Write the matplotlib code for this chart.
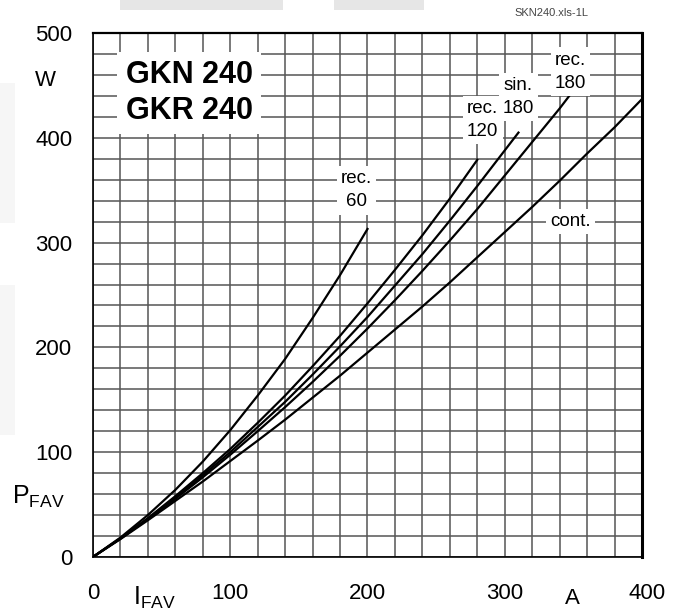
import matplotlib.pyplot as plt
from matplotlib.patches import Rectangle
from matplotlib.ticker import MultipleLocator

plt.rcParams['font.family'] = ['Liberation Sans', 'DejaVu Sans']
plt.rcParams['mathtext.fontset'] = 'custom'
plt.rcParams['mathtext.rm'] = 'Liberation Sans'

# average on-state current I_FAV (A) and power loss P_FAV (W)
i_cont = [0, 20, 40, 60, 80, 100, 120, 140, 160, 180, 200, 220, 240, 260, 280, 300, 320, 340, 360, 380, 400]
p_cont = [0, 17, 35, 53.5, 72, 91.5, 111, 131, 152, 173, 195, 217, 239, 262, 286, 310, 334, 359, 385, 410, 437]

i_rec180 = [0, 20, 40, 60, 80, 100, 120, 140, 160, 180, 200, 220, 240, 260, 280, 300, 320, 340, 347]
p_rec180 = [0, 17.5, 36, 55.5, 76, 97.5, 120, 143, 167, 192, 218, 245, 273, 302, 332, 364, 396, 428, 440]

i_sin180 = [0, 20, 40, 60, 80, 100, 120, 140, 160, 180, 200, 220, 240, 260, 280, 300, 310]
p_sin180 = [0, 17.7, 36.5, 56.5, 78, 100, 124, 148, 174, 201, 229, 259, 289, 321, 354, 388, 405]

i_rec120 = [0, 20, 40, 60, 80, 100, 120, 140, 160, 180, 200, 220, 240, 260, 280]
p_rec120 = [0, 17.8, 37, 58, 80, 103, 128, 154, 182, 211, 242, 274, 307, 342, 379]

i_rec60 = [0, 20, 40, 60, 80, 100, 120, 140, 160, 180, 200]
p_rec60 = [0, 18.5, 40, 64, 91, 121, 154, 189, 228, 269, 313]

x_ticks = [0, 100, 200, 300, 400]
y_ticks = [0, 100, 200, 300, 400, 500]

fig = plt.figure(figsize=(6.74, 6.12), dpi=100)

# faint grey scan artefacts around the page edge
W, H = 674, 612
for x0, y0, w, h, c in [(120, 0, 163, 10, '#e6e6e6'), (334, 0, 90, 10, '#e6e6e6'),
                        (0, 83, 15, 140, '#f6f6f6'), (0, 285, 15, 150, '#f6f6f6')]:
    fig.patches.append(Rectangle((x0 / W, 1 - (y0 + h) / H), w / W, h / H,
                                 transform=fig.transFigure, facecolor=c, edgecolor='none'))

ax = fig.add_axes([0.138, 0.090, 0.8145, 0.856])

ax.set_xlim(0, 400)
ax.set_ylim(0, 500)
ax.xaxis.set_minor_locator(MultipleLocator(20))
ax.yaxis.set_minor_locator(MultipleLocator(20))
ax.set_xticks(x_ticks)
# the last x label sits a bit to the right and runs off the page, drawn below
ax.set_xticklabels([str(t) for t in x_ticks[:-1]] + [''])
ax.set_yticks(y_ticks)
ax.grid(True, which='both', color='#555555', linewidth=1.1)
ax.set_axisbelow(True)
ax.tick_params(which='both', length=0)
ax.tick_params(axis='x', pad=19, labelsize=16)
ax.tick_params(axis='y', pad=15, labelsize=16)
for side in ['left', 'bottom']:
    ax.spines[side].set_linewidth(1.2)
ax.spines['top'].set_linewidth(1.6)
ax.spines['right'].set_linewidth(2.2)
ax.annotate(str(x_ticks[-1]), xy=(x_ticks[-1], 0), xycoords='data',
            xytext=(5, -26), textcoords='offset pixels', ha='center', va='top',
            fontsize=16, annotation_clip=False)

for xs, ys in [(i_cont, p_cont), (i_rec180, p_rec180), (i_sin180, p_sin180),
               (i_rec120, p_rec120), (i_rec60, p_rec60)]:
    ax.plot(xs, ys, color='black', linewidth=1.6, zorder=3)

box = dict(facecolor='white', edgecolor='none', pad=3)
lbl = dict(fontsize=13.5, ha='center', va='center', linespacing=1.5, bbox=box, zorder=4)
ax.text(192, 350, 'rec.\n60', **lbl)
ax.text(284, 417, 'rec.\n120', **lbl)
ax.text(310, 439, 'sin.\n180', **lbl)
ax.text(348, 463, 'rec.\n180', **lbl)
ax.text(348, 320, 'cont.', **lbl)

ax.text(70, 443, 'GKN 240\nGKR 240', fontsize=22, fontweight='bold', ha='center', va='center',
        linespacing=1.25, bbox=dict(facecolor='white', edgecolor='none', pad=6), zorder=4)

fig.text(45 / W, 1 - 80 / H, 'W', fontsize=16, ha='center', va='center')
fig.text(12 / W, 1 - 497 / H, r'$\mathregular{P_{FAV}}$', fontsize=18, ha='left', va='center')
fig.text(133 / W, 1 - 598 / H, r'$\mathregular{I_{FAV}}$', fontsize=18, ha='left', va='center')
fig.text(572 / W, 1 - 598 / H, 'A', fontsize=16, ha='center', va='center')
fig.text(551 / W, 1 - 13 / H, 'SKN240.xls-1L', fontsize=8, color='#444444', ha='center', va='center')

fig.savefig('out.png', dpi=100)
